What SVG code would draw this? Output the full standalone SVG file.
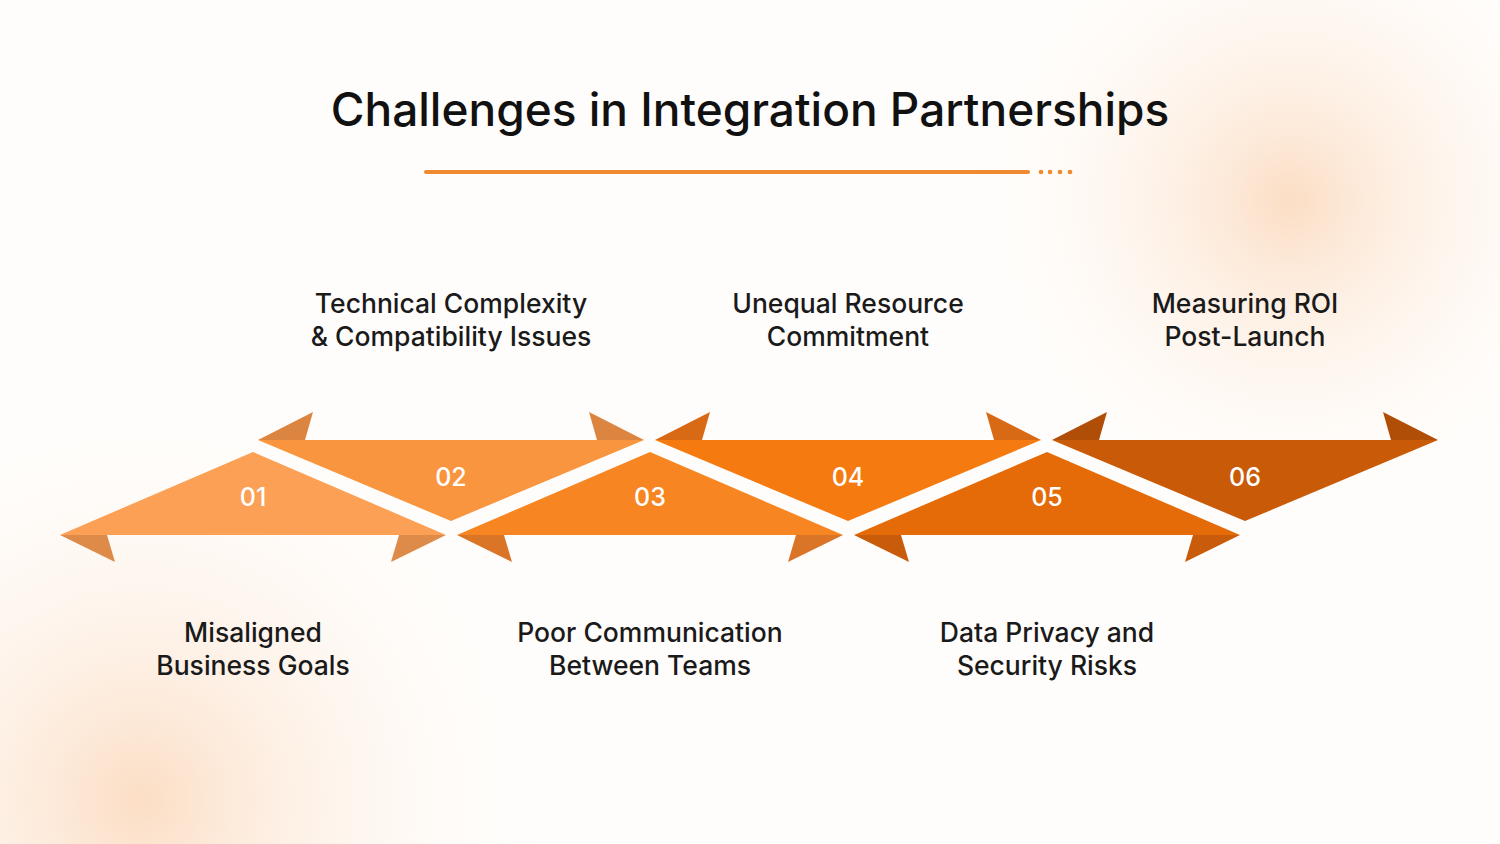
<svg xmlns="http://www.w3.org/2000/svg" width="1500" height="844" viewBox="0 0 1500 844">
<defs>
<radialGradient id="g1" cx="1290" cy="200" r="330" gradientUnits="userSpaceOnUse"><stop offset="0" stop-color="#F9C9A0" stop-opacity="0.6"/><stop offset="1" stop-color="#FFFFFF" stop-opacity="0"/></radialGradient>
<radialGradient id="g2" cx="140" cy="800" r="420" gradientUnits="userSpaceOnUse"><stop offset="0" stop-color="#F9C9A0" stop-opacity="0.6"/><stop offset="1" stop-color="#FFFFFF" stop-opacity="0"/></radialGradient>
</defs>
<style>
text{font-family:Inter,"Noto Sans","Liberation Sans",sans-serif;}
.t{font-size:46px;font-weight:500;fill:#111;text-anchor:middle}
.l{font-size:26.5px;font-weight:500;fill:#1a1a1a;text-anchor:middle}
.n{font-size:25px;font-weight:500;fill:#fff;text-anchor:middle}
</style>
<rect width="1500" height="844" fill="#FFFDFB"/>
<rect width="1500" height="844" fill="url(#g1)"/>
<rect width="1500" height="844" fill="url(#g2)"/>
<text class="t" x="750" y="126">Challenges in Integration Partnerships</text>
<line x1="426" y1="172" x2="1028" y2="172" stroke="#F08A30" stroke-width="4" stroke-linecap="round"/>
<g fill="#F08A30"><circle cx="1041" cy="172" r="2.3"/><circle cx="1050" cy="172" r="2.3"/><circle cx="1060" cy="172" r="2.3"/><circle cx="1070" cy="172" r="2.3"/></g>
<g id="connectors"/>
<g id="n01" transform="translate(253,0)">
<polygon points="-193,535 -146,535 -138,562" fill="#DE8A48"/><polygon points="193,535 146,535 138,562" fill="#DE8A48"/>
<polygon points="0,452 -193,535 193,535" fill="#FBA055"/>
<text class="n" x="0" y="506">01</text>
<text class="l" x="0" y="642">Misaligned</text><text class="l" x="0" y="675">Business Goals</text>
</g>
<g id="n02" transform="translate(451,0)">
<polygon points="-193,440 -146,440 -138,412" fill="#DC8540"/><polygon points="193,440 146,440 138,412" fill="#DC8540"/>
<polygon points="-193,440 193,440 0,521" fill="#F9953F"/>
<text class="n" x="0" y="486">02</text>
<text class="l" x="0" y="313">Technical Complexity</text><text class="l" x="0" y="346">&amp; Compatibility Issues</text>
</g>
<g id="n03" transform="translate(650,0)">
<polygon points="-193,535 -146,535 -138,562" fill="#DA7426"/><polygon points="193,535 146,535 138,562" fill="#DA7426"/>
<polygon points="0,452 -193,535 193,535" fill="#F78522"/>
<text class="n" x="0" y="506">03</text>
<text class="l" x="0" y="642">Poor Communication</text><text class="l" x="0" y="675">Between Teams</text>
</g>
<g id="n04" transform="translate(848,0)">
<polygon points="-193,440 -146,440 -138,412" fill="#D86A16"/><polygon points="193,440 146,440 138,412" fill="#D86A16"/>
<polygon points="-193,440 193,440 0,521" fill="#F57A10"/>
<text class="n" x="0" y="486">04</text>
<text class="l" x="0" y="313">Unequal Resource</text><text class="l" x="0" y="346">Commitment</text>
</g>
<g id="n05" transform="translate(1047,0)">
<polygon points="-193,535 -146,535 -138,562" fill="#C85C0A"/><polygon points="193,535 146,535 138,562" fill="#C85C0A"/>
<polygon points="0,452 -193,535 193,535" fill="#E56A08"/>
<text class="n" x="0" y="506">05</text>
<text class="l" x="0" y="642">Data Privacy and</text><text class="l" x="0" y="675">Security Risks</text>
</g>
<g id="n06" transform="translate(1245,0)">
<polygon points="-193,440 -146,440 -138,412" fill="#B04E08"/><polygon points="193,440 146,440 138,412" fill="#B04E08"/>
<polygon points="-193,440 193,440 0,521" fill="#C85A08"/>
<text class="n" x="0" y="486">06</text>
<text class="l" x="0" y="313">Measuring ROI</text><text class="l" x="0" y="346">Post-Launch</text>
</g>
</svg>
